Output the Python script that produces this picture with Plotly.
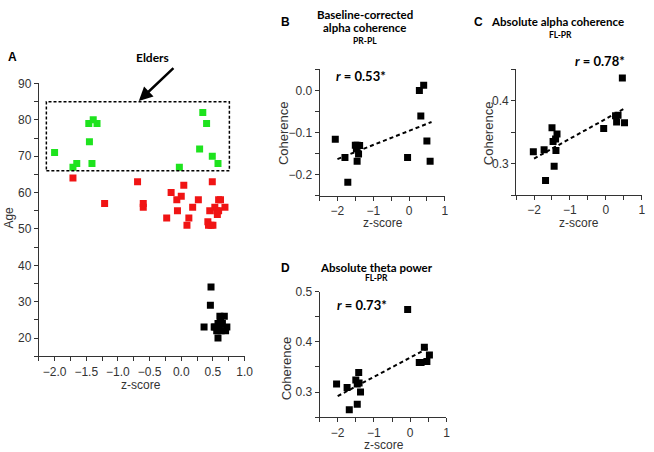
import plotly.graph_objects as go

# ---------------- Panel A data ----------------
elders_z = [-2.0, -1.71, -1.65, -1.46, -1.39, -1.33, -1.45, -1.41, -0.03, 0.29, 0.34, 0.40, 0.49, 0.58]
elders_age = [71, 67, 68, 79, 80, 79, 74, 68, 67, 72, 82, 79, 70, 68]

middle_z = [-1.71, -0.69, -1.21, -0.60, -0.60, 0.04, -0.16, 0.0, -0.07, 0.27, 0.49, 0.59, 0.62,
            0.18, -0.06, 0.69, 0.53, 0.45, 0.56, 0.59, 0.57, -0.23, 0.12, 0.09, 0.42, 0.43, 0.47, 0.50]
middle_age = [64, 63, 57, 57, 56, 62, 60, 59, 58, 58, 63, 58, 58,
              56, 55, 56, 56, 55, 55, 55, 54, 53, 53, 51, 52, 51, 51, 51]

young_z = [0.47, 0.46, 0.36, 0.58, 0.68, 0.62, 0.65, 0.58, 0.53, 0.60, 0.72, 0.70, 0.56, 0.63, 0.61, 0.52]
young_age = [34, 29, 23, 20, 26, 25, 24, 24, 23, 23, 23, 22, 22, 22, 26, 23]

elders_box_z = [-2.13, 0.76]
elders_box_age = [66, 85]

# ---------------- Panel B data ----------------
b_z = [-2.06, -1.79, -1.71, -1.50, -1.45, -1.38, -1.47, -1.41, -1.45, -0.04, 0.29, 0.41, 0.33, 0.50, 0.59]
b_coh = [-0.116, -0.159, -0.218, -0.130, -0.130, -0.131, -0.139, -0.151, -0.168, -0.159, 0.0, 0.012, -0.061, -0.120, -0.168]
b_fit_z = [-2.0, 0.63]
b_fit_coh = [-0.163, -0.075]

# ---------------- Panel C data ----------------
c_z = [-2.02, -1.72, -1.68, -1.50, -1.47, -1.40, -1.36, -1.39, -1.44, -0.06, 0.27, 0.34, 0.30, 0.52, 0.46]
c_coh = [0.319, 0.322, 0.273, 0.357, 0.335, 0.339, 0.347, 0.321, 0.296, 0.356, 0.376, 0.377, 0.366, 0.365, 0.436]
c_fit_z = [-2.0, 0.5]
c_fit_coh = [0.308, 0.387]

# ---------------- Panel D data ----------------
d_z = [-2.03, -1.74, -1.68, -1.50, -1.42, -1.46, -1.41, -1.46, -1.37, -0.07, 0.25, 0.30, 0.39, 0.46, 0.53]
d_coh = [0.316, 0.309, 0.265, 0.324, 0.339, 0.316, 0.318, 0.276, 0.300, 0.464, 0.359, 0.359, 0.389, 0.361, 0.374]
d_fit_z = [-2.0, 0.48]
d_fit_coh = [0.292, 0.387]

W, H = 654, 452
AX = "#333333"
TICKFONT = dict(family="Liberation Sans, Arial", size=12, color="#333333")
TITLEFONT = "Lato, Calibri, sans-serif"


def px2paper(x, y):
    return x / W, 1 - y / H


fig = go.Figure()

sq = dict(symbol="square", size=7, line=dict(width=0))
fig.add_trace(go.Scatter(x=elders_z, y=elders_age, mode="markers", marker=dict(color="#1ee31e", **sq), xaxis="x", yaxis="y"))
fig.add_trace(go.Scatter(x=middle_z, y=middle_age, mode="markers", marker=dict(color="#f01414", **sq), xaxis="x", yaxis="y"))
fig.add_trace(go.Scatter(x=young_z, y=young_age, mode="markers", marker=dict(color="black", **sq), xaxis="x", yaxis="y"))

for (zx, zy, fx, fy, xa, ya) in [
    (b_z, b_coh, b_fit_z, b_fit_coh, "x2", "y2"),
    (c_z, c_coh, c_fit_z, c_fit_coh, "x3", "y3"),
    (d_z, d_coh, d_fit_z, d_fit_coh, "x4", "y4"),
]:
    fig.add_trace(go.Scatter(x=fx, y=fy, mode="lines", line=dict(color="black", width=2, dash="4px,3px"),
                             xaxis=xa, yaxis=ya))
    fig.add_trace(go.Scatter(x=zx, y=zy, mode="markers", marker=dict(color="black", symbol="square", size=7),
                             xaxis=xa, yaxis=ya))


def axis(domain, rng, dtick, minor, fmt, anchor, tick0=0):
    return dict(domain=domain, range=rng, dtick=dtick, tick0=tick0, tickformat=fmt,
                showline=True, linecolor=AX, linewidth=1, ticks="outside", ticklen=4,
                tickcolor=AX, tickwidth=1, showgrid=False, zeroline=False,
                tickfont=TICKFONT, anchor=anchor, fixedrange=True,
                minor=dict(ticks="outside", dtick=minor, ticklen=4, tickcolor=AX, tickwidth=1, tick0=tick0))


fig.update_layout(
    width=W, height=H, margin=dict(l=0, r=0, t=0, b=0),
    paper_bgcolor="white", plot_bgcolor="white", showlegend=False,
    xaxis=axis([39.3 / W, 248 / W], [-2.25, 1.0], 0.5, 0.25, ".1f", "y"),
    yaxis=axis([1 - 354.7 / H, 1 - 77.7 / H], [15, 90], 10, 5, "d", "x"),
    xaxis2=axis([324 / W, 451 / W], [-2.5, 1.0], 1, 0.5, "d", "y2"),
    yaxis2=axis([1 - 191.7 / H, 1 - 63.3 / H], [-0.25, 0.05], 0.1, 0.05, ".1f", "x2"),
    xaxis3=axis([523.3 / W, 650.7 / W], [-2.5, 1.0], 1, 0.5, "d", "y3"),
    yaxis3=axis([1 - 191 / H, 1 - 63.3 / H], [0.25, 0.45], 0.1, 0.05, ".1f", "x3"),
    xaxis4=axis([324 / W, 452.7 / W], [-2.5, 1.0], 1, 0.5, "d", "y4"),
    yaxis4=axis([1 - 416.7 / H, 1 - 289 / H], [0.25, 0.5], 0.1, 0.05, ".1f", "x4"),
)

# Elders box
fig.add_shape(type="rect", xref="x", yref="y", x0=elders_box_z[0], x1=elders_box_z[1],
              y0=elders_box_age[0], y1=elders_box_age[1], line=dict(color="black", width=1.5, dash="3px,2px"))

annotations = []


def text(x, y, s, size=12, family="Liberation Sans, Arial", color="#222222", bold=False, angle=0, xanchor="center"):
    px, py = px2paper(x, y)
    if bold:
        s = "<b>" + s + "</b>"
    annotations.append(dict(x=px, y=py, xref="paper", yref="paper", text=s, showarrow=False,
                            xanchor=xanchor, yanchor="middle", textangle=angle,
                            font=dict(family=family, size=size, color=color)))


# Arrow pointing to the Elders box
annotations.append(dict(x=-0.67, y=85.2, xref="x", yref="y", ax=-0.10, ay=94.6, axref="x", ayref="y",
                        showarrow=True, arrowhead=2, arrowsize=1.1, arrowwidth=2.5, arrowcolor="black", text=""))

# Panel letters
text(13, 51, "A", size=12, bold=True, color="black")
text(289, 15, "B", size=12, bold=True, color="black")
text(289, 265, "D", size=12, bold=True, color="black")

text(155, 51, "Elders", size=12, family=TITLEFONT, bold=True, color="black")

# Panel titles
text(370, 8, "Baseline-corrected", size=11.5, family=TITLEFONT, bold=True, color="black")
text(370, 21, "alpha coherence", size=11.5, family=TITLEFONT, bold=True, color="black")
text(370, 35, "PR-PL", size=8.5, family=TITLEFONT, bold=True, color="black")

text(485, 15, "<b>C</b>", size=12, family="Liberation Sans, Arial", color="black", xanchor="center")
text(565, 15, "Absolute alpha coherence", size=11.5, family=TITLEFONT, bold=True, color="black")
text(568, 28.5, "FL-PR", size=8.5, family=TITLEFONT, bold=True, color="black")

text(382, 264.5, "Absolute theta power", size=11.5, family=TITLEFONT, bold=True, color="black")
text(382, 275.5, "FL-PR", size=8.5, family=TITLEFONT, bold=True, color="black")

# r values
text(366, 70, "<i>r</i> = 0.53*", size=13, family=TITLEFONT, bold=True, color="black")
text(608, 55, "<i>r</i> = 0.78*", size=13, family=TITLEFONT, bold=True, color="black")
text(367, 303, "<i>r</i> = 0.73*", size=13, family=TITLEFONT, bold=True, color="black")

# Axis titles
text(9, 214, "Age", size=12, color="#333333", angle=-90)
text(143, 384, "z-score", size=12, color="#333333")
text(287, 128, "Coherence", size=13, color="#333333", angle=-90)
text(388, 219.5, "z-score", size=12, color="#333333")
text(495, 128, "Coherence", size=13, color="#333333", angle=-90)
text(587, 219.5, "z-score", size=12, color="#333333")
text(290, 367, "Coherence", size=13, color="#333333", angle=-90)
text(389, 444.5, "z-score", size=12, color="#333333")

fig.update_layout(annotations=annotations)

fig.write_html(
    "out.html",
    config={"displayModeBar": False},
    post_script="document.body.style.margin='0';document.body.style.overflow='hidden';",
)
